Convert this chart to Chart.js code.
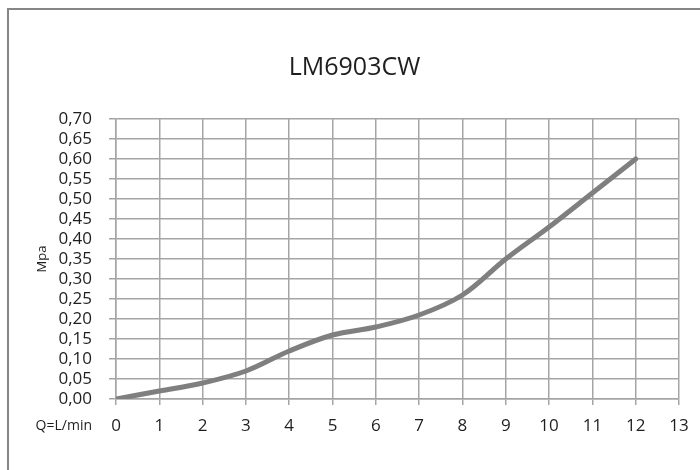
<!DOCTYPE html>
<html>
<head>
<meta charset="utf-8">
<script src="https://cdn.jsdelivr.net/npm/chart.js@4/dist/chart.umd.min.js"></script>
<style>
  html, body { margin: 0; padding: 0; background: #fff; }
  #wrap { width: 700px; height: 470px; position: relative; }
</style>
</head>
<body>
<div id="wrap"><canvas id="c" width="700" height="470"></canvas></div>
<script>
const chartTitle = 'LM6903CW';
const yAxisTitle = 'Mpa';
const xAxisLabel = 'Q=L/min';
const flowValues = [0, 1, 2, 3, 4, 5, 6, 7, 8, 9, 10, 11, 12];
const pressureValues = [0.00, 0.02, 0.04, 0.07, 0.12, 0.16, 0.18, 0.21, 0.26, 0.35, 0.43, 0.515, 0.60];
const xMin = 0, xMax = 13, xStep = 1;
const yMin = 0, yMax = 0.70, yStep = 0.05;

const FONT = "'Open Sans', 'DejaVu Sans', sans-serif";
const TEXT = '#1e1e1e';
const GRID = '#a5a5a5';

const frameAndLabel = {
  id: 'frameAndLabel',
  beforeDraw(chart) {
    const ctx = chart.ctx;
    ctx.save();
    ctx.fillStyle = '#ffffff';
    ctx.fillRect(0, 0, chart.width, chart.height);
    ctx.strokeStyle = '#868686';
    ctx.lineWidth = 2;
    ctx.strokeRect(8, 9, chart.width + 20, chart.height + 20);
    ctx.restore();
  },
  afterDraw(chart) {
    const ctx = chart.ctx;
    const area = chart.chartArea;
    ctx.save();
    ctx.font = "14px " + FONT;
    ctx.fillStyle = TEXT;
    ctx.textAlign = 'right';
    ctx.textBaseline = 'middle';
    ctx.fillText(xAxisLabel, area.left - 24, area.bottom + 27);
    ctx.restore();
  }
};

const points = flowValues.map((x, i) => ({ x: x, y: pressureValues[i] }));

new Chart(document.getElementById('c'), {
  type: 'line',
  data: {
    datasets: [{
      data: points,
      borderColor: '#7f7f7f',
      borderWidth: 5,
      pointRadius: 0,
      tension: 0.35,
      borderCapStyle: 'round',
      borderJoinStyle: 'round',
      fill: false
    }]
  },
  options: {
    responsive: false,
    animation: false,
    devicePixelRatio: 1,
    layout: { padding: { left: 30, right: 21, top: 0, bottom: 0 } },
    plugins: {
      legend: { display: false },
      tooltip: { enabled: false },
      title: {
        display: true,
        text: chartTitle,
        color: TEXT,
        font: { family: FONT, size: 25, weight: 'normal' },
        padding: { top: 53, bottom: 36 }
      }
    },
    scales: {
      x: {
        type: 'linear',
        min: xMin,
        max: xMax,
        afterFit(scale) { scale.height = 71; },
        ticks: {
          stepSize: xStep,
          autoSkip: false,
          color: TEXT,
          font: { family: FONT, size: 17 },
          padding: 11,
          maxRotation: 0
        },
        grid: { color: GRID, lineWidth: 1.5, tickLength: 6 },
        border: { color: GRID, width: 1.5 }
      },
      y: {
        type: 'linear',
        min: yMin,
        max: yMax,
        afterFit(scale) { scale.width = 86; },
        ticks: {
          stepSize: yStep,
          autoSkip: false,
          color: TEXT,
          font: { family: FONT, size: 17 },
          padding: 17,
          callback: (v) => Number(v).toFixed(2).replace('.', ',')
        },
        grid: { color: GRID, lineWidth: 1.5, tickLength: 7 },
        border: { color: GRID, width: 1.5 },
        title: {
          display: true,
          text: yAxisTitle,
          color: TEXT,
          font: { family: FONT, size: 13 },
          padding: { top: 4, bottom: 0 }
        }
      }
    }
  },
  plugins: [frameAndLabel]
});
</script>
</body>
</html>
